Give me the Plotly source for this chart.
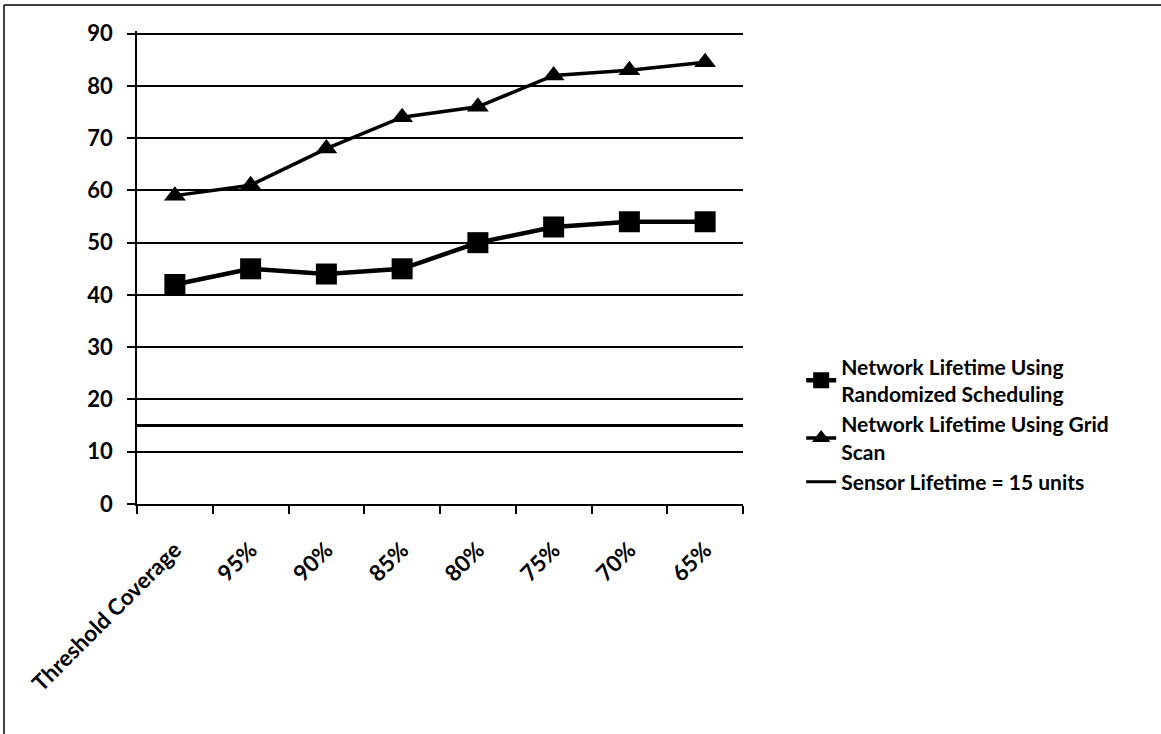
import plotly.graph_objects as go

categories = ["Threshold Coverage", "95%", "90%", "85%", "80%", "75%", "70%", "65%"]
randomized = [42, 45, 44, 45, 50, 53, 54, 54]
grid_scan = [59, 61, 68, 74, 76, 82, 83, 84.5]
sensor_lifetime = 15
y_ticks = [0, 10, 20, 30, 40, 50, 60, 70, 80, 90]

n = len(categories)
xpos = list(range(n))
FONT = "Lato"

fig = go.Figure()
fig.add_trace(go.Scatter(
    x=xpos, y=randomized, mode="lines+markers",
    name="Network Lifetime Using<br>Randomized Scheduling",
    line=dict(color="black", width=4.5),
    marker=dict(symbol="square", size=21, color="black"),
))
fig.add_trace(go.Scatter(
    x=xpos, y=grid_scan, mode="lines+markers",
    name="Network Lifetime Using Grid<br>Scan",
    line=dict(color="black", width=3.5),
    marker=dict(symbol="triangle-up", size=19, color="black"),
))
fig.add_trace(go.Scatter(
    x=[-0.5, n - 0.5], y=[sensor_lifetime, sensor_lifetime], mode="lines",
    name="Sensor Lifetime = 15 units",
    line=dict(color="black", width=3),
))

fig.update_layout(
    width=1161, height=734,
    margin=dict(l=137, r=418, t=31, b=230),
    paper_bgcolor="white", plot_bgcolor="white",
    font=dict(family=FONT, size=21, color="black", weight="bold"),
    showlegend=True,
    legend=dict(x=1.096, y=0.333, xanchor="left", yanchor="top",
                font=dict(family=FONT, size=21, color="black", weight="bold"),
                tracegroupgap=12, bgcolor="rgba(0,0,0,0)"),
    xaxis=dict(
        range=[-0.5, n - 0.5],
        tickmode="array", tickvals=xpos, ticktext=categories,
        tickangle=-45, ticks="", showgrid=False, zeroline=False,
        showline=True, linecolor="black", linewidth=1.8,
        tickfont=dict(family=FONT, size=22.5, color="black", weight="bold"),
        ticklabelstandoff=22,
        minor=dict(tickmode="array", tickvals=[i - 0.5 for i in range(n + 1)],
                   ticks="outside", ticklen=8, tickwidth=1.5, tickcolor="black",
                   showgrid=False),
    ),
    yaxis=dict(
        range=[0, 90.5], tickmode="array", tickvals=y_ticks,
        ticks="outside", ticklen=8, tickwidth=1.5, tickcolor="black",
        showgrid=True, gridcolor="black", gridwidth=1.8,
        zeroline=False, showline=True, linecolor="black", linewidth=1.5,
        tickfont=dict(family=FONT, size=22, color="black", weight="bold"),
        ticklabelstandoff=10,
    ),
    shapes=[
        dict(type="line", xref="paper", yref="paper",
             x0=-0.2195, x1=1.70, y0=1.055, y1=1.055,
             line=dict(color="black", width=1.5)),
        dict(type="line", xref="paper", yref="paper",
             x0=-0.2195, x1=-0.2195, y0=1.055, y1=-0.49,
             line=dict(color="black", width=1.5)),
    ],
)

fig.write_html("out.html", config={"displayModeBar": False},
               post_script="document.body.style.margin='0';document.body.style.padding='0';")
